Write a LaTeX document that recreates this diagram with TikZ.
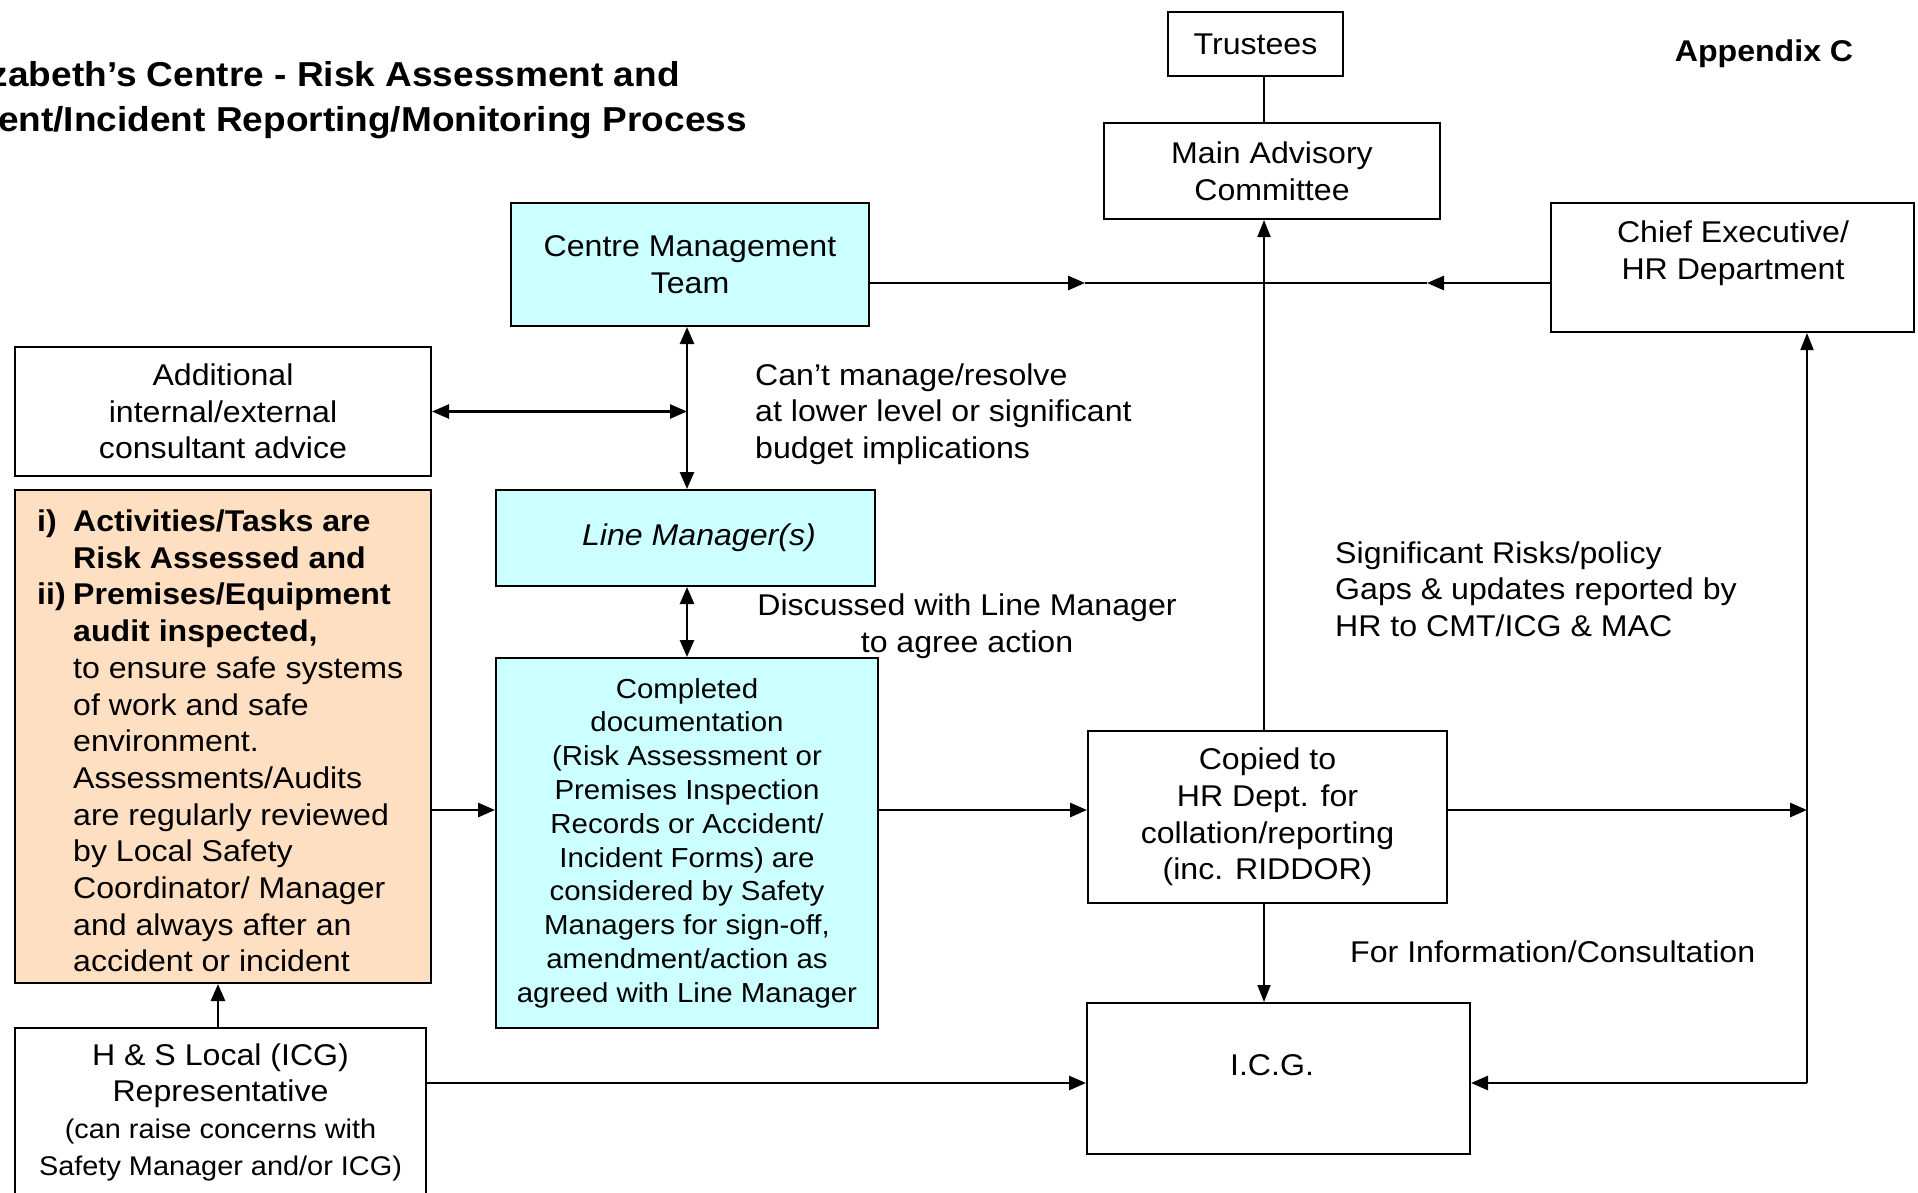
\documentclass[tikz,border=0pt]{standalone}
\usepackage{fontspec}
\setmainfont[FakeStretch=1.07]{Liberation Sans}
\usetikzlibrary{arrows.meta}
\definecolor{cyanbox}{HTML}{CCFFFF}
\definecolor{peach}{HTML}{FFDFC2}
\begin{document}
\begin{tikzpicture}[x=1pt,y=-1pt,
  box/.style={draw, line width=2pt, inner sep=0pt, align=center, font=\fontsize{30}{36.7}\selectfont},
  lbl/.style={inner sep=0pt, font=\fontsize{30}{36.7}\selectfont},
  arrow/.style={line width=2.8pt, -{Triangle[length=17pt,width=14pt]}},
  dbl/.style={line width=2.6pt, {Triangle[length=17pt,width=14pt]}-{Triangle[length=17pt,width=14pt]}},
  thinline/.style={line width=1.8pt},
  thinarrow/.style={line width=1.8pt, -{Triangle[length=17pt,width=13pt]}}]
\path[use as bounding box, fill=white] (0,0) rectangle (1918,1192);

% title
\node[lbl, anchor=base east, font=\bfseries\fontsize{34.6}{42}\selectfont] (t1) at (680,86) {zabeth’s Centre - Risk Assessment and};
\node[lbl, anchor=base east, font=\bfseries\fontsize{34.6}{42}\selectfont] (t2) at (747,131) {ent/Incident Reporting/Monitoring Process};
\node[lbl, font=\bfseries\fontsize{30}{35}\selectfont] (app) at (1764,54) {Appendix C};

% boxes
\node[box, minimum width=175pt, minimum height=64pt] (tr) at (1255.5,44) {Trustees};
\node[box, minimum width=336pt, minimum height=96pt] (mac) at (1272,171) {Main Advisory\\Committee};
\node[box, minimum width=363pt, minimum height=129pt] (ce) at (1732.5,267.5) {};
\node[lbl, align=center] (cet) at (1733,253) {Chief Executive/\\HR Department};
\node[box, fill=cyanbox, minimum width=358pt, minimum height=123pt] (cmt) at (690,264.5) {Centre Management\\Team};
\node[box, minimum width=416pt, minimum height=129pt] (add) at (223,411.5) {Additional\\internal/external\\consultant advice};
\node[box, fill=cyanbox, minimum width=379pt, minimum height=96pt] (lm) at (685.5,538) {};
\node[lbl, font=\itshape\fontsize{30}{36.7}\selectfont] (lmt) at (699,538) {Line Manager(s)};
\node[box, fill=peach, minimum width=416pt, minimum height=493pt] (or) at (223,736.5) {};
\node[lbl, align=left, anchor=west] (ort) at (37,741) {%
\makebox[36pt][l]{\bfseries i)}\textbf{Activities/Tasks are}\\
\hspace*{36pt}\textbf{Risk Assessed and}\\
\makebox[36pt][l]{\bfseries ii)}\textbf{Premises/Equipment}\\
\hspace*{36pt}\textbf{audit inspected,}\\
\hspace*{36pt}to ensure safe systems\\
\hspace*{36pt}of work and safe\\
\hspace*{36pt}environment.\\
\hspace*{36pt}Assessments/Audits\\
\hspace*{36pt}are regularly reviewed\\
\hspace*{36pt}by Local Safety\\
\hspace*{36pt}Coordinator/ Manager\\
\hspace*{36pt}and always after an\\
\hspace*{36pt}accident or incident};
\node[box, fill=cyanbox, minimum width=382pt, minimum height=370pt, font=\fontsize{27.5}{33.8}\selectfont] (comp) at (687,843) {Completed\\documentation\\(Risk Assessment or\\Premises Inspection\\Records or Accident/\\Incident Forms) are\\considered by Safety\\Managers for sign-off,\\amendment/action as\\agreed with Line Manager};
\node[box, minimum width=359pt, minimum height=172pt] (cop) at (1267.5,817) {Copied to\\HR Dept. for\\collation/reporting\\(inc. RIDDOR)};
\node[box, minimum width=383pt, minimum height=151pt] (icg) at (1278.5,1078.5) {};
\node[lbl] (icgt) at (1272,1065) {I.C.G.};
\node[box, minimum width=411pt, minimum height=168pt] (hs) at (220.5,1112) {H \& S Local (ICG)\\Representative\\{\fontsize{27}{33}\selectfont (can raise concerns with}\\{\fontsize{27}{33}\selectfont Safety Manager and/or ICG)}};

% labels
\node[lbl, align=left, anchor=west] (l1) at (755,414) {Can’t manage/resolve\\at lower level or significant\\budget implications};
\node[lbl, align=center] (l2) at (967,626) {Discussed with Line Manager\\to agree action};
\node[lbl, align=left, anchor=west] (l3) at (1335,589) {Significant Risks/policy\\Gaps \& updates reported by\\HR to CMT/ICG \& MAC};
\node[lbl, anchor=west] (l4) at (1350,952) {For Information/Consultation};

% connectors
\coordinate (vx) at (687,0);
\draw[dbl] (cmt.south -| vx) -- (lm.north -| vx);
\draw[dbl] (lm.south -| vx) -- (comp.north -| vx);
\draw[dbl] (add.east) -- (add.east -| vx);

\coordinate (j1) at (1085,283);
\coordinate (j2) at (1427,283);
\draw[arrow] (cmt.east |- j1) -- (j1);
\draw[thinline] (j1) -- (j2);
\draw[arrow] (ce.west |- j2) -- (j2);

\coordinate (vx2) at (1264,0);
\draw[thinline] (tr.south -| vx2) -- (mac.north -| vx2);
\draw[thinarrow] (cop.north -| vx2) -- (mac.south -| vx2);
\draw[thinarrow] (cop.south -| vx2) -- (icg.north -| vx2);

\coordinate (hy) at (0,810);
\draw[arrow] (or.east |- hy) -- (comp.west |- hy);
\draw[arrow] (comp.east |- hy) -- (cop.west |- hy);

\coordinate (r1) at (1807,810);
\coordinate (r2) at (1807,1083);
\draw[arrow] (cop.east |- r1) -- (r1);
\draw[thinarrow] (r2) -- (ce.south -| r2);
\draw[arrow] (r2) -- (icg.east |- r2);
\draw[arrow] (hs.east |- r2) -- (icg.west |- r2);

\coordinate (vx3) at (218,0);
\draw[arrow] (hs.north -| vx3) -- (or.south -| vx3);
\end{tikzpicture}
\end{document}
